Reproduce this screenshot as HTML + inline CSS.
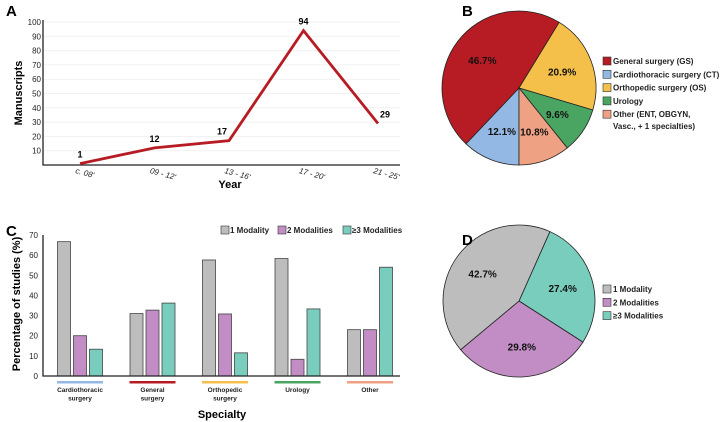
<!DOCTYPE html>
<html><head><meta charset="utf-8"><style>
body{margin:0;background:#fff;}
svg{display:block;font-family:"Liberation Sans",Arial,sans-serif;}
</style></head><body>
<svg width="720" height="422" viewBox="0 0 720 422">
<g id="A"></g>
<g id="B"></g>
<g id="C"></g>
<g id="D"></g>
</svg>
<script>
const yearCats=["c. 08'","09 - 12'","13 - 16'","17 - 20'","21 - 25'"];
const manuscripts=[1,12,17,94,29];
const yTicksA=[10,20,30,40,50,60,70,80,90,100];
const specLabelsB=["Cardiothoracic surgery (CT)","General surgery (GS)","Orthopedic surgery (OS)","Urology","Other (ENT, OBGYN, Vasc., + 1 specialties)"];
const specValuesB=[12.1,46.7,20.9,9.6,10.8];
const specColors=["#93b8e3","#b71c24","#f5c04a","#4aa563","#eea183"];
const barCats=[["Cardiothoracic","surgery"],["General","surgery"],["Orthopedic","surgery"],["Urology"],["Other"]];
const mod1=[66.7,31,57.6,58.3,23];
const mod2=[20,32.7,30.8,8.3,23];
const mod3=[13.3,36.2,11.5,33.3,54];
const yTicksC=[0,10,20,30,40,50,60,70];
const modLabels=["1 Modality","2 Modalities","≥3 Modalities"];
const modValuesD=[27.4,29.8,42.7];
const modColors=["#bdbdbd","#c18dc4","#79cdbd"];
const NS="http://www.w3.org/2000/svg";
function mk(p,t,a,txt){const e=document.createElementNS(NS,t);for(const k in a)e.setAttribute(k,a[k]);if(txt!==undefined)e.textContent=txt;p.appendChild(e);return e;}
const svg=document.querySelector('svg');
[["A",6,16],["B",462,16],["C",6,236],["D",462,245]].forEach(l=>{
 const t=mk(svg,'text',{x:l[1],y:l[2],'font-size':15,'font-weight':'bold'},l[0]);
 
 
});
const A=document.getElementById('A');
const ax0=43,ax1=400,ay0=165,ay100=22;
const yA=v=>ay0-(ay0-ay100)*v/100;
const xA=i=>80+i*74.5;
yTicksA.forEach(v=>{
 const g=mk(A,'line',{x1:ax0,x2:ax1,y1:yA(v),y2:yA(v),stroke:'#f1f1f1','stroke-width':1});
 
 const t=mk(A,'text',{x:ax0-2,y:yA(v)+3,'font-size':8,'text-anchor':'end',fill:'#222'},v);
 
});
let ax=mk(A,'path',{d:`M${ax0} ${ay100-2}V${ay0}H${ax1}`,fill:'none',stroke:'#222','stroke-width':1.3});

let pts=manuscripts.map((v,i)=>xA(i)+','+yA(v)).join(' ');
let ln=mk(A,'polyline',{points:pts,fill:'none',stroke:'#b71c24','stroke-width':2.8,'stroke-linejoin':'miter'});

manuscripts.forEach((v,i)=>{
 const dx=i==4?7:(i==2?-7:0);
 const t=mk(A,'text',{x:xA(i)+dx,y:yA(v)-6,'font-size':9,'font-weight':'bold','text-anchor':'middle'},v);
 
 const c=mk(A,'text',{transform:`translate(${xA(i)-5},${ay0+8}) rotate(15)`,'font-size':8,'font-style':'italic',fill:'#222'},yearCats[i]);
 
});
let t1=mk(A,'text',{x:230,y:188,'font-size':11,'font-weight':'bold','text-anchor':'middle'},'Year');

let t2=mk(A,'text',{transform:'translate(22,93) rotate(-90)','font-size':11,'font-weight':'bold','text-anchor':'middle'},'Manuscripts');

function pie(g,cx,cy,r,vals,cols,startDeg,names,labelR){
 const tot=vals.reduce((a,b)=>a+b,0);let a=startDeg;
 vals.forEach((v,i)=>{
  const sweep=v/tot*360,a2=a+sweep;
  const p=d=>[cx+r*Math.sin(d*Math.PI/180),cy-r*Math.cos(d*Math.PI/180)];
  const [x1,y1]=p(a),[x2,y2]=p(a2);
  const s=mk(g,'path',{d:`M${cx} ${cy}L${x1} ${y1}A${r} ${r} 0 ${sweep>180?1:0} 1 ${x2} ${y2}Z`,fill:cols[i],stroke:'#222','stroke-width':0.8});
  
  const m=(a+a2)/2*Math.PI/180,lr=r*labelR;
  const t=mk(g,'text',{x:cx+lr*Math.sin(m),y:cy-lr*Math.cos(m)+4,'font-size':10,'font-weight':'bold','text-anchor':'middle',fill:'#111'},v.toFixed(1)+'%');
  
  a=a2;
 });
}
const B=document.getElementById('B');
pie(B,519,88,77,specValuesB,specColors,180,["ct","gs","os","urology","other"],0.6);
const legOrder=[1,0,2,3,4];
legOrder.forEach((k,j)=>{
 const y=57+j*13.3;
 const r=mk(B,'rect',{x:603,y:y,width:8,height:8,fill:specColors[k],stroke:'#333','stroke-width':0.6});
 
 const lines=k==4?["Other (ENT, OBGYN,","Vasc., + 1 specialties)"]:[specLabelsB[k]];
 lines.forEach((s,q)=>{const t=mk(B,'text',{x:613,y:y+7+q*12,'font-size':8,'font-weight':'bold',fill:'#222'},s);
 });
});
const C=document.getElementById('C');
const cx0=43,cx1=400,cy0=376,cy70=235;
const yC=v=>cy0-(cy0-cy70)*v/70;
const xC=i=>80+i*72.5;
yTicksC.forEach(v=>{const t=mk(C,'text',{x:cx0-5,y:yC(v)+3,'font-size':8,'text-anchor':'end',fill:'#222'},v);
 });
[mod1,mod2,mod3].forEach((arr,s)=>{arr.forEach((v,i)=>{
 const r=mk(C,'rect',{x:xC(i)-22.5+s*16,y:yC(v),width:13,height:cy0-yC(v),fill:modColors[s],stroke:'#444','stroke-width':0.8});
 
});});
let axc=mk(C,'path',{d:`M${cx0} ${cy70}V${cy0}H${cx1}`,fill:'none',stroke:'#222','stroke-width':1.3});

barCats.forEach((c,i)=>{
 const u=mk(C,'rect',{x:xC(i)-23,y:381,width:46,height:2.5,fill:specColors[i]});
 
 c.forEach((s,q)=>{const t=mk(C,'text',{x:xC(i),y:392+q*8.5,'font-size':6.5,'font-weight':'bold','text-anchor':'middle',fill:'#222'},s);
 });
});
let t3=mk(C,'text',{x:222,y:418,'font-size':11,'font-weight':'bold','text-anchor':'middle'},'Specialty');

let t4=mk(C,'text',{transform:'translate(20,304) rotate(-90)','font-size':11,'font-weight':'bold','text-anchor':'middle'},'Percentage of studies (%)');

[221,278,343].forEach((x,s)=>{
 const r=mk(C,'rect',{x:x,y:226,width:8,height:8,fill:modColors[s],stroke:'#333','stroke-width':0.6});
 
 const t=mk(C,'text',{x:x+9,y:233,'font-size':8,'font-weight':'bold',fill:'#222'},modLabels[s]);
 
});
const D=document.getElementById('D');
pie(D,519,301,76,modValuesD,[modColors[2],modColors[1],modColors[0]],24,["3mod","2mod","1mod"],0.6);
modLabels.forEach((s,j)=>{
 const y=285+j*13.3;
 const r=mk(D,'rect',{x:603,y:y,width:8,height:8,fill:modColors[j],stroke:'#333','stroke-width':0.6});
 
 const t=mk(D,'text',{x:613,y:y+7,'font-size':8,'font-weight':'bold',fill:'#222'},s);
 
});
</script>
</body></html>
